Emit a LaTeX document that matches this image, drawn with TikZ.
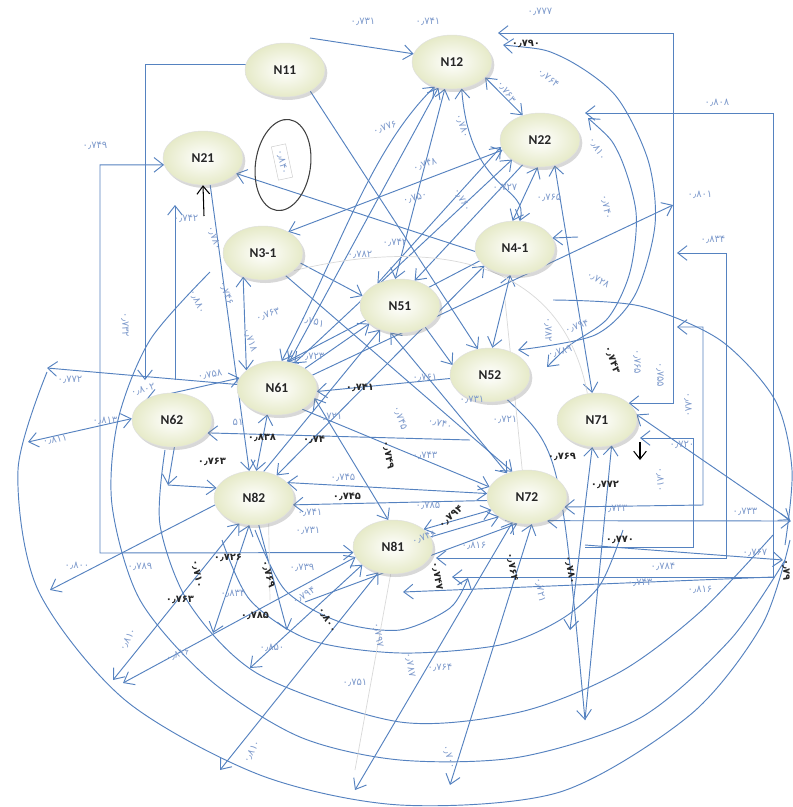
\documentclass[tikz,border=0pt]{standalone}
\usepackage{fontspec}
\setmainfont{DejaVu Sans}
\newfontfamily\nodefont{Carlito}
\usetikzlibrary{arrows.meta,shapes.geometric,shadows}
\pgfdeclarelayer{bg}
\pgfsetlayers{bg,main}
\definecolor{edgec}{HTML}{5582C0}
\definecolor{lblc}{HTML}{7F9BCC}
\definecolor{nfill}{HTML}{E6EAC8}
\tikzset{
 nd/.style={ellipse, minimum width=2.4cm, minimum height=1.62cm, inner sep=0pt,
   draw=black!12, line width=0.4pt, inner color=white, outer color=nfill,
   drop shadow={opacity=0.3,shadow xshift=0.7mm,shadow yshift=-0.9mm},
   font=\nodefont\bfseries\fontsize{11.5}{12}\selectfont, text=black!85},
 cn/.style={draw=edgec, line width=0.8pt, -{Straight Barb[length=2.8mm,width=4.4mm]}},
 cnb/.style={draw=edgec, line width=0.8pt, {Straight Barb[length=2.8mm,width=4.4mm]}-{Straight Barb[length=2.8mm,width=4.4mm]}},
 cnn/.style={draw=edgec, line width=0.8pt},
 blkarrow/.style={draw=black, line width=0.9pt, -{Straight Barb[length=2.4mm,width=3.8mm]}},
 lbl/.style={font=\fontsize{8.5}{9}\selectfont, text=lblc, inner sep=0pt},
 lbk/.style={font=\fontsize{8.5}{9}\selectfont\bfseries, text=black!85, inner sep=0pt},
}
\newcommand{\lab}[5][lbl]{\node[#1,rotate=#4] (#2) at (#3) {#5};}
\begin{document}
\begin{tikzpicture}[x=0.03cm,y=-0.03cm]
\useasboundingbox (0,0) rectangle (793,807);

% nodes
\node[nd] (N11) at (285,70) {N11};
\node[nd] (N12) at (452,62) {N12};
\node[nd] (N22) at (540,140) {N22};
\node[nd] (N21) at (203,158) {N21};
\node[nd] (N31) at (263,253) {N3-1};
\node[nd] (N41) at (515,248) {N4-1};
\node[nd] (N51) at (400,306) {N51};
\node[nd] (N52) at (490,375) {N52};
\node[nd] (N61) at (277,388) {N61};
\node[nd] (N62) at (172,420) {N62};
\node[nd] (N71) at (597,420) {N71};
\node[nd] (N82) at (254,498) {N82};
\node[nd] (N72) at (527,497) {N72};
\node[nd] (N81) at (393,547) {N81};

% oval with boxed value
\node[ellipse, draw=black!75, line width=0.9pt, minimum width=1.65cm, minimum height=2.75cm, rotate=-8] (ov) at (283,165) {};
\node[draw=black!20, fill=white, rotate=-78, font=\fontsize{8.5}{9}\selectfont, text=lblc, inner xsep=4pt, inner ysep=3pt] (ovt) at (282,162) {۰٫۸۴۰};

% free-end coordinates
\coordinate (a1) at (310,38);
\coordinate (c1) at (145,380);
\coordinate (c2) at (100,553);
\coordinate (c3a) at (175,380);
\coordinate (c3b) at (175,205);
\coordinate (c4) at (204,216);
\coordinate (r1) at (498,33);
\coordinate (r1b) at (673,33);
\coordinate (r2a) at (585,113);
\coordinate (r2b) at (773,113);
\coordinate (r2c) at (773,577);
\coordinate (r2d) at (452,577);
\coordinate (r3) at (673,205);
\coordinate (r4a) at (677,253);
\coordinate (r4b) at (726,253);
\coordinate (r4c) at (726,558);
\coordinate (r4d) at (436,558);
\coordinate (r5a) at (677,327);
\coordinate (r5b) at (703,327);
\coordinate (r5c) at (703,505);
\coordinate (r6a) at (585,547);
\coordinate (r6b) at (693,547);
\coordinate (r6c) at (693,438);
\coordinate (r6d) at (640,438);
\coordinate (e1) at (790,520);
\coordinate (e2) at (791,521);
\coordinate (e3a) at (585,545);
\coordinate (e3b) at (783,560);
\coordinate (e4) at (403,592);
\coordinate (w1) at (47,368);
\coordinate (w2) at (28,442);
\coordinate (s1) at (50,590);
\coordinate (s2) at (113,680);
\coordinate (s3) at (123,683);
\coordinate (s4) at (250,668);
\coordinate (s5) at (220,770);
\coordinate (s6) at (213,633);
\coordinate (s7) at (287,630);
\coordinate (s8) at (450,785);
\coordinate (s9) at (570,630);
\coordinate (s10) at (585,720);
\coordinate (s11) at (355,790);
\coordinate (k1) at (578,237);
\coordinate (k2) at (470,440);
\coordinate (k3) at (305,602);
\coordinate (k4) at (168,485);

\begin{pgfonlayer}{bg}
\fill[white] (0,0) rectangle (793,807);
% top horizontals and rectilinear connectors
\draw[cn] (a1) -- (N12.168);
\draw[cn] (N11.172) -| (c1);
\draw[cnb] (N21.190) -| (c2) -- (N81.188);
\draw[cn] (c3a) -- (c3b);
\draw[cnb] (r1) -- (r1b) |- (N71.28);
\draw[cnb] (r2a) -- (r2b) -- (r2c) -- (r2d);
\draw[cn] (N61.20) -- (r3);
\draw[cnb] (r4a) -- (r4b) -- (r4c) -- (r4d);
\draw[cnb] (r5a) -- (r5b) -- (r5c) -- (N72.-15);
\draw[cn] (r6a) -- (r6b) -- (r6c) -- (r6d);
\draw[cnb] (N71.8) -- (e1);
\draw[cnb] (N72.-50) -- (e2);
\draw[cn] (e3a) -- (e3b);
\draw[cn] (r2c) -- (e4);

% big arcs
\draw[cnn] plot[smooth] coordinates {(47,372) (18,470) (38,590) (125,700) (260,775) (400,805) (560,792) (690,715) (762,625) (790,540)};
\draw[cnn] plot[smooth] coordinates {(210,272) (150,340) (118,420) (112,505) (140,600) (210,680) (300,737) (400,760) (520,757) (640,718) (730,640) (785,560)};
\draw[cnn] plot[smooth] coordinates {(165,450) (160,525) (190,605) (260,675) (400,722) (520,712) (620,672) (700,612) (773,535)};
\draw[cnn] plot[smooth] coordinates {(222,540) (250,600) (310,640) (400,653) (500,645) (560,620) (600,585) (623,530)};
\draw[cn] plot[smooth] coordinates {(255,530) (285,590) (340,622) (400,630) (450,608) (468,578)};
\draw[cnn] plot[smooth] coordinates {(553,300) (640,306) (720,340) (775,400) (792,470) (785,545)};
\draw[cnb] plot[smooth] coordinates {(503,45) (560,56) (615,95) (648,160) (655,225) (635,295) (595,335) (518,350)};
\draw[cnb] plot[smooth] coordinates {(588,118) (618,152) (636,212) (630,272) (608,318) (570,345) (547,367)};

% central connectors
\draw[cnb] (N31.40) -- (N22.195);
\draw[cnb] (N61.55) -- (N22.215);
\draw[cn] (N22.235) -- (N51.60);
\draw[cnb] (N22.-95) -- (N41.95);
\draw[cnb] (N12.-25) -- (N22.125);
\draw[cnb] (N12.-70) .. controls (470,195) and (530,185) .. (N41.80);
\draw[cn] (k1) -- (N41.15);
\draw[cnb] (N22.-60) -- (N71.100);
\draw[cn] (N11.-40) -- (N52.115);
\draw[cn] (N41.185) -- (N21.-25);
\draw[cnb] (N12.235) .. controls (370,150) and (340,250) .. (N61.80);
\draw[cnb] (N12.-105) -- (N51.100);
\draw[cn] (N31.-15) -- (N51.165);
\draw[cnb] (N31.230) -- (N61.150);
\draw[cn] (N21.-75) -- (N82.100);
\draw[cnb] (N61.-110) -- (N82.85);
\draw[cn] (k2) -- (N62.-20);
\draw[cn] (N61.-40) -- (N72.165);
\draw[cnb] (N61.-15) -- (N81.100);
\draw[cn] (N82.70) -- (N51.-130);
\draw[cn] (N61.35) -- (N51.210);
\draw[cn] (N52.185) -- (N61.-5);
\draw[cnb] (N51.-110) -- (N72.130);
\draw[cnb] (N82.25) -- (N72.175);
\draw[cn] (N72.185) -- (N82.-10);
\draw[cn] (N62.-85) -- (k4);
\draw[cn] (k4) -- (N82.165);
\draw[cn] (N82.190) -- (s1);
\draw[cnb] (N82.-120) -- (s2);
\draw[cnb] (N81.195) -- (s3);
\draw[cnb] (N81.210) -- (s4);
\draw[cnb] (N81.-120) -- (s5);
\draw[cnb] (N82.-100) -- (s6);
\draw[cn] (N82.-80) -- (s7);
\draw[cnb] (N72.-80) -- (s8);
\draw[cnb] (N71.-100) -- (s9);
\draw[cn] (s10) -- (N71.-60);
\draw[cnb] (N72.-120) -- (s11);
\draw[cnb] (N81.30) -- (N72.200);
\draw[cn] (N81.15) -- (N72.215);
\draw[cn] (k3) -- (N72.-110);
\draw[cn] (N61.175) -- (w1);
\draw[cnb] (N62.178) -- (w2);
\draw[cnb] (N62.140) -- (N61.165);
\draw[cnb] (N61.65) -- (N12.-118);
\draw[cnb] (N51.135) -- (N22.190);
\draw[cn] (N41.200) -- (N61.70);
\draw[cnb] (N41.-100) -- (N52.85);
\draw[cn] (N51.-40) -- (N52.165);
\draw[cn] (N52.-55) .. controls (560,450) .. (s10);
\draw[cnb] (N41.-150) -- (N82.45);
\draw[cn] (N31.-45) -- (N72.120);
\draw[black!15, line width=0.6pt] (N31.-30) .. controls (420,240) and (560,250) .. (N71.110);
\draw[black!15, line width=0.6pt] (N81.-95) -- (355,770);
\draw[black!15, line width=0.6pt] (N72.100) -- (505,300);
\draw[black!15, line width=0.6pt] (N82.-60) -- (270,600);
\end{pgfonlayer}

% black arrows
\draw[blkarrow] (c4) -- (N21.south);
\draw[blkarrow] (640,442) -- (640,460);

% labels
\lab{l1}{363,22}{0}{۰٫۷۳۱}
\lab{l2}{428,22}{0}{۰٫۷۴۱}
\lab{l3}{540,12}{0}{۰٫۷۷۷}
\lab[lbk]{l4}{526,44}{0}{۰٫۷۹۰}
\lab{l5}{506,92}{-55}{۰٫۷۶۳}
\lab{l6}{548,78}{-40}{۰٫۷۶۴}
\lab{l7}{717,103}{0}{۰٫۸۰۸}
\lab{l8}{95,146}{0}{۰٫۷۴۹}
\lab{l9}{462,126}{-70}{۰٫۷۸۰}
\lab{l10}{597,149}{-60}{۰٫۸۱۰}
\lab{l11}{606,207}{-80}{۰٫۷۴۰}
\lab{l12}{700,195}{0}{۰٫۸۰۱}
\lab{l13}{425,165}{20}{۰٫۷۴۸}
\lab{l14}{415,198}{15}{۰٫۷۵۰}
\lab{l15}{462,200}{-60}{۰٫۷۶۰}
\lab{l16}{505,188}{0}{۰٫۷۲۷}
\lab{l17}{549,198}{0}{۰٫۷۶۵}
\lab{l18}{713,240}{0}{۰٫۸۳۴}
\lab{l19}{186,219}{0}{۰٫۷۴۲}
\lab{l20}{214,238}{-70}{۰٫۷۸۰}
\lab{l21}{395,243}{0}{۰٫۷۴۲}
\lab{l22}{385,128}{20}{۰٫۷۷۶}
\lab{l23}{360,255}{0}{۰٫۷۸۲}
\lab{l24}{125,325}{-90}{۰٫۷۳۲}
\lab{l25}{197,302}{-65}{۰٫۸۸۰}
\lab{l26}{226,293}{-70}{۰٫۷۴۶}
\lab{l27}{268,315}{20}{۰٫۷۶۳}
\lab{l28}{312,322}{-15}{۰٫۷۵۱}
\lab{l29}{250,340}{-70}{۰٫۷۱۸}
\lab{l30}{312,357}{0}{۰٫۷۲۳}
\lab{l31}{70,380}{0}{۰٫۷۷۲}
\lab{l32}{143,390}{15}{۰٫۸۰۲}
\lab{l33}{210,375}{10}{۰٫۷۵۸}
\lab{l34}{105,421}{0}{۰٫۸۱۳}
\lab{l35}{55,440}{10}{۰٫۸۱۱}
\lab[lbk]{l36}{360,388}{0}{۰٫۷۴۱}
\lab{l37}{330,417}{0}{۰٫۷۲۱}
\lab[lbk]{l38}{262,438}{0}{۰٫۸۳۸}
\lab{l39}{238,422}{0}{۵۱}
\lab[lbk]{l40}{212,462}{0}{۰٫۷۶۳}
\lab[lbk]{l41}{314,440}{0}{۰٫۷۴}
\lab{l42}{343,478}{0}{۰٫۷۴۵}
\lab[lbk]{l43}{347,497}{0}{۰٫۷۴۵}
\lab[lbk]{l44}{388,455}{-80}{۰٫۷۴۹}
\lab{l45}{310,513}{0}{۰٫۷۴۱}
\lab{l46}{308,531}{0}{۰٫۷۳۱}
\lab{l47}{428,506}{0}{۰٫۷۸۵}
\lab{l48}{425,456}{0}{۰٫۷۴۳}
\lab[lbk]{l49}{451,517}{40}{۰٫۷۹۴}
\lab{l50}{424,538}{20}{۰٫۷۴۶}
\lab{l51}{474,546}{0}{۰٫۸۱۶}
\lab[lbk]{l52}{437,576}{-80}{۰٫۷۴۷}
\lab[lbk]{l53}{512,567}{-80}{۰٫۷۶۴}
\lab{l54}{540,590}{-80}{۰٫۷۲۱}
\lab[lbk]{l55}{570,570}{-80}{۰٫۷۸۰}
\lab[lbk]{l56}{562,457}{0}{۰٫۷۶۹}
\lab[lbk]{l57}{605,485}{0}{۰٫۷۷۲}
\lab{l58}{615,509}{0}{۰٫۷۴۳}
\lab[lbk]{l59}{620,540}{0}{۰٫۷۷۰}
\lab{l60}{682,445}{0}{۰٫۷۲۰}
\lab{l61}{755,553}{0}{۰٫۷۶۷}
\lab{l62}{663,567}{0}{۰٫۷۸۴}
\lab{l63}{640,583}{0}{۰٫۷۴۳}
\lab{l64}{700,590}{0}{۰٫۸۱۶}
\lab{l65}{745,512}{0}{۰٫۷۳۳}
\lab[lbk]{l66}{786,570}{-90}{۰٫۷۹}
\lab{l67}{660,375}{-90}{۰٫۷۵۵}
\lab{l68}{688,405}{-90}{۰٫۸۸۰}
\lab{l69}{660,480}{-90}{۰٫۸۱۰}
\lab{l70}{637,362}{-90}{۰٫۷۶۵}
\lab{l71}{560,352}{15}{۰٫۷۸۹}
\lab{l72}{577,327}{20}{۰٫۷۹۴}
\lab{l73}{598,280}{-30}{۰٫۷۲۸}
\lab{l74}{548,330}{-90}{۰٫۷۸۲}
\lab[lbk]{l75}{612,360}{-70}{۰٫۷۴۳}
\lab{l76}{425,378}{0}{۰٫۷۶۱}
\lab{l77}{472,400}{0}{۰٫۷۳۱}
\lab{l78}{505,420}{0}{۰٫۷۲۱}
\lab{l79}{440,424}{-15}{۰٫۷۴۰}
\lab{l80}{400,418}{-70}{۰٫۷۴۵}
\lab{l82}{77,566}{0}{۰٫۸۰۰}
\lab{l83}{140,567}{0}{۰٫۷۸۹}
\lab[lbk]{l84}{197,574}{-80}{۰٫۷۱۰}
\lab[lbk]{l85}{228,558}{0}{۰٫۷۲۶}
\lab[lbk]{l86}{268,574}{-75}{۰٫۷۶۹}
\lab{l87}{302,568}{0}{۰٫۷۳۹}
\lab[lbk]{l88}{180,600}{0}{۰٫۷۶۳}
\lab{l89}{233,594}{0}{۰٫۸۳۴}
\lab[lbk]{l90}{255,616}{0}{۰٫۷۸۵}
\lab[lbk]{l91}{327,620}{-60}{۰٫۸۰۰}
\lab{l92}{304,596}{30}{۰٫۷۹۴}
\lab{l93}{128,640}{60}{۰٫۸۱۰}
\lab{l94}{178,655}{20}{۰٫۸۱۶}
\lab{l95}{272,648}{0}{۰٫۸۵۰}
\lab{l96}{355,683}{0}{۰٫۷۵۱}
\lab{l97}{252,752}{60}{۰٫۸۱۰}
\lab{l98}{378,635}{-80}{۰٫۷۹۷}
\lab{l99}{410,665}{-80}{۰٫۷۸۷}
\lab{l100}{440,668}{0}{۰٫۷۶۴}
\lab{l101}{449,757}{-70}{۰٫۷۰۰}
\end{tikzpicture}
\end{document}
